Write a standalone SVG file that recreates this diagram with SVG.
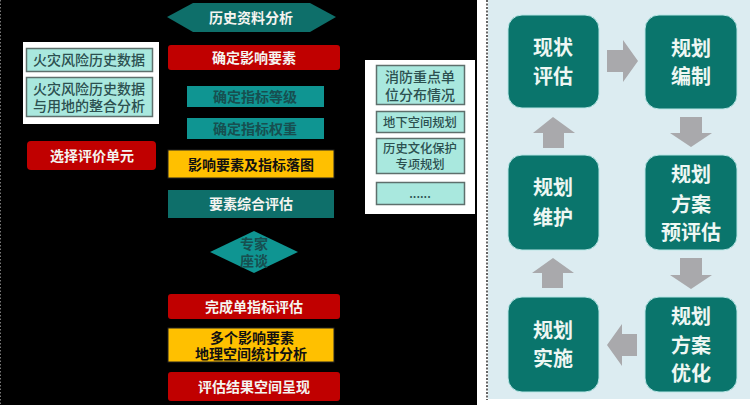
<svg xmlns="http://www.w3.org/2000/svg" width="750" height="405" viewBox="0 0 750 405">
<style>
text{font-family:"Noto Sans CJK SC","Noto Sans",sans-serif;text-anchor:middle;font-size:14px;font-weight:700}
.w{fill:#f4f4f0}.d{fill:#111}.t{fill:#174f50}.l{fill:#2c5050;font-weight:500}
.red{fill:#c00000}.yel{fill:#ffc000;stroke:#222;stroke-width:1}.tl{fill:#0f9592}.td{fill:#0e6f6a}
.pale{fill:#a9e8de;stroke:#5e6f6c;stroke-width:1.5}.pan{fill:#fff}
.n{fill:#0a756c;stroke:#b9e6e6;stroke-width:1}.nt{fill:#eef7f3;font-size:20px}
.a{fill:#a9a9ac}
</style>
<rect width="750" height="405" fill="#000"/>
<rect x="477" y="0" width="273" height="405" fill="#fff"/>
<rect x="488" y="0" width="262" height="399" fill="#dcecf1"/>
<line x1="487" y1="0" x2="487" y2="400" stroke="#333" stroke-width="1.5" stroke-dasharray="2 1.5"/>
<line x1="0.5" y1="0" x2="0.5" y2="405" stroke="#777" stroke-width="1" stroke-dasharray="1.5 2"/>
<g id="connectors">
<path class="a" d="M607 50H623V40L638 61L623 82V72H607Z"/>
<path class="a" d="M680 117H702V133H712L691 147L670 133H680Z"/>
<path class="a" d="M702 258V275H712L691 289L670 275H680V258Z"/>
<path class="a" d="M637 334V356H622V366L607 345L622 324V334Z"/>
<path class="a" d="M542 288V273H532L553 258L574 273H563V288Z"/>
<path class="a" d="M543 148V133H533L553 117L575 133H564V148Z"/>
</g>
<g id="n-hist"><path class="td" d="M167 17L193 3H310L336 17L310 32H193Z"/><text class="w" x="251" y="23">历史资料分析</text></g>
<g id="n-factor"><rect class="red" x="168" y="45" width="172" height="25" rx="3"/><text class="w" x="254" y="63">确定影响要素</text></g>
<g id="n-grade"><rect class="tl" x="187" y="86" width="137" height="21"/><text class="t" x="255" y="102">确定指标等级</text></g>
<g id="n-weight"><rect class="tl" x="187" y="118" width="137" height="21"/><text class="t" x="255" y="134">确定指标权重</text></g>
<g id="n-map"><rect class="yel" x="168" y="150" width="166" height="28"/><text class="d" x="251" y="170">影响要素及指标落图</text></g>
<g id="n-eval"><rect class="td" x="168" y="190" width="166" height="28"/><text class="w" x="251" y="209">要素综合评估</text></g>
<g id="n-expert"><path class="tl" d="M210 252L254 231L298 252L254 273Z"/><text class="t" x="254" y="249">专家</text><text class="t" x="254" y="266">座谈</text></g>
<g id="n-single"><rect class="red" x="168" y="294" width="172" height="25" rx="3"/><text class="w" x="254" y="312">完成单指标评估</text></g>
<g id="n-stat"><rect class="yel" x="168" y="328" width="166" height="34"/><text class="d" x="252" y="343">多个影响要素</text><text class="d" x="251" y="359">地理空间统计分析</text></g>
<g id="n-result"><rect class="red" x="168" y="372" width="172" height="29" rx="3"/><text class="w" x="254" y="392">评估结果空间呈现</text></g>
<g id="n-left-panel"><rect class="pan" x="23" y="42" width="136" height="82"/>
<rect class="pale" x="26.500" y="48.500" width="126" height="23"/><text class="l" x="89" y="65">火灾风险历史数据</text>
<rect class="pale" x="26.500" y="77.500" width="126" height="39"/><text class="l" x="89" y="94">火灾风险历史数据</text><text class="l" x="89" y="111">与用地的整合分析</text></g>
<g id="n-unit"><rect class="red" x="27" y="141" width="129" height="29" rx="4"/><text class="w" x="92" y="161">选择评价单元</text></g>
<g id="n-right-panel"><rect class="pan" x="365" y="60" width="110" height="154"/>
<rect class="pale" x="376.500" y="65.500" width="88" height="39"/><text class="l" x="420" y="82">消防重点单</text><text class="l" x="420" y="100">位分布情况</text>
<rect class="pale" x="376.500" y="111.500" width="88" height="21"/><text class="l" style="font-size:12.300px" x="420" y="127">地下空间规划</text>
<rect class="pale" x="376.500" y="138.500" width="88" height="35"/><text class="l" style="font-size:12.300px" x="420" y="153">历史文化保护</text><text class="l" style="font-size:12.300px" x="420" y="169">专项规划</text>
<rect class="pale" x="376.500" y="182.500" width="88" height="22"/><text class="l" style="font-size:12px" x="420" y="198">......</text></g>
<g id="n-status"><rect class="n" x="508" y="15" width="91" height="93" rx="14"/><text class="nt" x="553" y="55">现状</text><text class="nt" x="553" y="84">评估</text></g>
<g id="n-draft"><rect class="n" x="645" y="15" width="92" height="94" rx="14"/><text class="nt" x="691" y="56">规划</text><text class="nt" x="691" y="84">编制</text></g>
<g id="n-pre"><rect class="n" x="645" y="155" width="92" height="95" rx="14"/><text class="nt" x="691" y="182">规划</text><text class="nt" x="691" y="212">方案</text><text class="nt" x="691" y="240">预评估</text></g>
<g id="n-opt"><rect class="n" x="645" y="297" width="92" height="95" rx="14"/><text class="nt" x="691" y="324">规划</text><text class="nt" x="691" y="353">方案</text><text class="nt" x="691" y="381">优化</text></g>
<g id="n-impl"><rect class="n" x="508" y="297" width="91" height="95" rx="14"/><text class="nt" x="553" y="338">规划</text><text class="nt" x="553" y="366">实施</text></g>
<g id="n-maint"><rect class="n" x="508" y="155" width="91" height="95" rx="14"/><text class="nt" x="553" y="195">规划</text><text class="nt" x="553" y="225">维护</text></g>
</svg>
